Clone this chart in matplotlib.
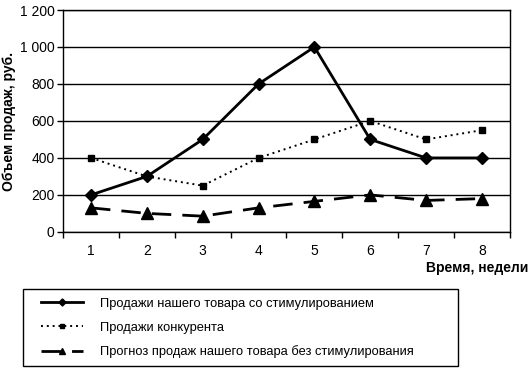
import numpy as np
import matplotlib
matplotlib.use("Agg")
import matplotlib.pyplot as plt
from matplotlib.ticker import FuncFormatter, FixedLocator
from matplotlib.patches import Rectangle

plt.rcParams['font.family'] = ['Liberation Sans', 'DejaVu Sans']

weeks = [1, 2, 3, 4, 5, 6, 7, 8]
ours_promo = [200, 300, 500, 800, 1000, 500, 400, 400]
competitor = [400, 300, 250, 400, 500, 600, 500, 550]
ours_forecast = [130, 100, 85, 130, 165, 200, 170, 180]

labels = ["Продажи нашего товара со стимулированием",
          "Продажи конкурента",
          "Прогноз продаж нашего товара без стимулирования"]

fig = plt.figure(figsize=(5.3, 3.71), dpi=100)
ax = fig.add_axes([0.119, 0.375, 0.843, 0.598])

l1, = ax.plot(weeks, ours_promo, color='black', lw=2, marker='D', ms=6.5,
              zorder=5)
l2, = ax.plot(weeks, competitor, color='black', lw=1.4, ls=(0, (1, 2)),
              marker='s', ms=5, zorder=4)
l3, = ax.plot(weeks, ours_forecast, color='black', lw=2, ls=(0, (7, 4)),
              marker='^', ms=8, zorder=4)

ax.set_xlim(0.5, 8.5)
ax.set_ylim(0, 1200)
ax.set_yticks(np.arange(0, 1201, 200))
ax.yaxis.set_major_formatter(FuncFormatter(lambda v, p: f"{int(v):,}".replace(",", " ")))
ax.set_xticks(weeks)
ax.xaxis.set_minor_locator(FixedLocator(np.arange(0.5, 9, 1)))
ax.tick_params(axis='x', which='major', length=0, pad=9, labelsize=10)
ax.tick_params(axis='x', which='minor', length=4, width=1, direction='out')
ax.tick_params(axis='y', length=4, width=1, labelsize=10, pad=2)
ax.grid(axis='y', color='black', lw=1)
ax.set_axisbelow(True)
for s in ax.spines.values():
    s.set_linewidth(1)

ax.set_ylabel("Объем продаж, руб.", fontweight='bold', fontsize=10, labelpad=3)
fig.text(0.996, 0.277, "Время, недели", ha='right', va='center',
         fontweight='bold', fontsize=10)

# legend box
fig.add_artist(Rectangle((0.0425, 0.0135), 0.822, 0.2075, transform=fig.transFigure,
                         fill=False, edgecolor='black', lw=1))
fig.legend([l1, l2, l3], labels, loc='center left',
           bbox_to_anchor=(0.055, 0.116), frameon=False, fontsize=9.3,
           handlelength=3.25, handletextpad=1.3, labelspacing=0.9,
           markerscale=0.55)

fig.savefig("out.png", dpi=100)
